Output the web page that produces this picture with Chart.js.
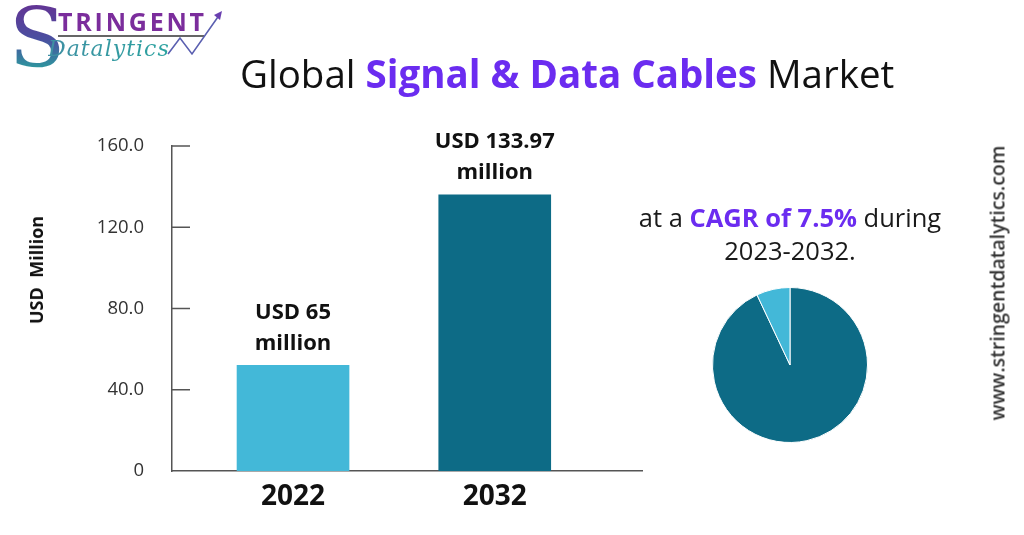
<!DOCTYPE html>
<html>
<head>
<meta charset="utf-8">
<script src="https://cdn.jsdelivr.net/npm/chart.js@4.4.1/dist/chart.umd.min.js"></script>
<style>
  html, body { margin:0; padding:0; background:#fff; width:1024px; height:535px; overflow:hidden; font-family:"Open Sans", sans-serif; }
  .abs { position:absolute; }
  #barWrap { left:0; top:0; width:660px; height:535px; }
  #pieWrap { left:712px; top:287px; width:156px; height:156px; }
  #title { left:240px; top:49px; font-size:38.5px; color:#111; white-space:nowrap; line-height:48px; }
  #title b { color:#6B2CF0; font-weight:700; }
  #cagr { left:590px; top:201px; width:400px; text-align:center; font-size:25.5px; line-height:33px; color:#1a1a1a; }
  #cagr b { color:#6B2CF0; font-weight:700; }
  #ytitle { left:36px; top:270px; transform:translate(-50%,-50%) rotate(-90deg); font-size:18px; font-weight:700; color:#111; white-space:pre; }
  #web { left:997px; top:283px; transform:translate(-50%,-50%) rotate(-90deg); font-size:19.5px; font-weight:600; color:#333; white-space:nowrap; }
  #logoS { left:9px; top:-6px; font-family:"DejaVu Serif", serif; font-size:82px; line-height:90px; font-weight:400;
           background:linear-gradient(180deg,#6A2C91 0%,#4A4FA0 50%,#2B9C9E 85%); -webkit-background-clip:text; background-clip:text; color:transparent; }
  #logoT { left:58px; top:7px; font-size:25px; font-weight:700; letter-spacing:2.8px; color:#7B2D9C; line-height:28px; }
  #logoLine { left:58px; top:35px; width:146px; height:2px; background:#666; }
  #logoD { left:48px; top:35px; font-family:"DejaVu Serif", serif; font-style:italic; font-size:22px; line-height:28px;
           background:linear-gradient(90deg,#3F8FA3,#2BA3A0); -webkit-background-clip:text; background-clip:text; color:transparent; letter-spacing:1px; }
</style>
</head>
<body>
<div id="barWrap" class="abs"><canvas id="bar"></canvas></div>
<div id="pieWrap" class="abs"><canvas id="pie"></canvas></div>

<div id="logoS" class="abs">S</div>
<div id="logoT" class="abs">TRINGENT</div>
<div id="logoLine" class="abs"></div>
<div id="logoD" class="abs">Datalytics</div>
<svg class="abs" style="left:160px;top:8px" width="70" height="56">
  <polyline points="8,46 20,30 32,46 60,6" fill="none" stroke="#5A5FB0" stroke-width="1.6"/>
  <polygon points="62,3 54,7 60,12" fill="#6A3FB0"/>
</svg>

<div id="title" class="abs">Global <b>Signal &amp; Data Cables</b> Market</div>
<div id="cagr" class="abs">at a <b>CAGR of 7.5%</b> during<br>2023-2032.</div>
<div id="ytitle" class="abs">USD  Million</div>
<div id="web" class="abs">www.stringentdatalytics.com</div>

<script>
// ---- data ----
const categories = ['2022', '2032'];
const values = [52, 136];
const barLabels = [['USD 65', 'million'], ['USD 133.97', 'million']];
const barColors = ['#43B8D8', '#0D6B86'];
const yTicks = [0, 40, 80, 120, 160];
const yTickLabels = ['0', '40.0', '80.0', '120.0', '160.0'];
const pieLabels = ['Rest', 'CAGR share'];
const pieValues = [93, 7];
const pieColors = ['#0D6B86', '#43B8D8'];

const years = categories.map(Number);

const innerTicks = {
  id: 'innerTicks',
  afterDraw(chart) {
    const y = chart.scales.y, ctx = chart.ctx;
    const x0 = chart.chartArea.left;
    ctx.save();
    ctx.strokeStyle = '#555';
    ctx.lineWidth = 1.5;
    yTicks.forEach(v => {
      if (v === 0) return;
      const py = y.getPixelForValue(v);
      ctx.beginPath();
      ctx.moveTo(x0, py);
      ctx.lineTo(x0 + 18, py);
      ctx.stroke();
    });
    ctx.restore();
  }
};

const barText = {
  id: 'barText',
  afterDatasetsDraw(chart) {
    const ctx = chart.ctx;
    const meta = chart.getDatasetMeta(0);
    ctx.save();
    ctx.font = '700 22px "Open Sans"';
    ctx.fillStyle = '#111';
    ctx.textAlign = 'center';
    ctx.textBaseline = 'middle';
    meta.data.forEach((el, i) => {
      const lines = barLabels[i];
      ctx.fillText(lines[0], el.x, el.y - 53);
      ctx.fillText(lines[1], el.x, el.y - 22);
    });
    ctx.restore();
  }
};

new Chart(document.getElementById('bar'), {
  type: 'bar',
  data: {
    datasets: [{
      data: years.map((x, i) => ({ x: x, y: values[i] })),
      backgroundColor: barColors,
      barThickness: 112
    }]
  },
  options: {
    responsive: true,
    maintainAspectRatio: false,
    animation: false,
    layout: { padding: { top: 146, right: 18, left: 0, bottom: 0 } },
    plugins: { legend: { display: false }, tooltip: { enabled: false } },
    scales: {
      x: {
        type: 'linear',
        offset: false,
        min: years[0] - 6,
        max: years[years.length - 1] + 7.3,
        afterBuildTicks: s => { s.ticks = years.map(v => ({ value: v })); },
        afterFit: s => { s.height = 64; },
        grid: { display: false, drawTicks: false },
        border: { display: true, color: '#555', width: 1.5 },
        ticks: {
          padding: 9,
          color: '#111',
          font: { family: 'Open Sans', size: 28, weight: '700' },
          callback: v => String(v)
        }
      },
      y: {
        min: 0, max: 160,
        afterBuildTicks: s => { s.ticks = yTicks.map(v => ({ value: v })); },
        afterFit: s => { s.width = 172; },
        grid: { display: false, drawTicks: false },
        border: { display: true, color: '#555', width: 1.5 },
        ticks: {
          padding: 28,
          color: '#333',
          font: { family: 'Open Sans', size: 18.5 },
          callback: v => yTickLabels[yTicks.indexOf(v)]
        }
      }
    }
  },
  plugins: [innerTicks, barText]
});

new Chart(document.getElementById('pie'), {
  type: 'pie',
  data: {
    labels: pieLabels,
    datasets: [{ data: pieValues, backgroundColor: pieColors, borderColor: '#fff', borderWidth: 1 }]
  },
  options: {
    responsive: true,
    maintainAspectRatio: false,
    animation: false,
    layout: { padding: 0 },
    plugins: { legend: { display: false }, tooltip: { enabled: false } }
  }
});
</script>
</body>
</html>
